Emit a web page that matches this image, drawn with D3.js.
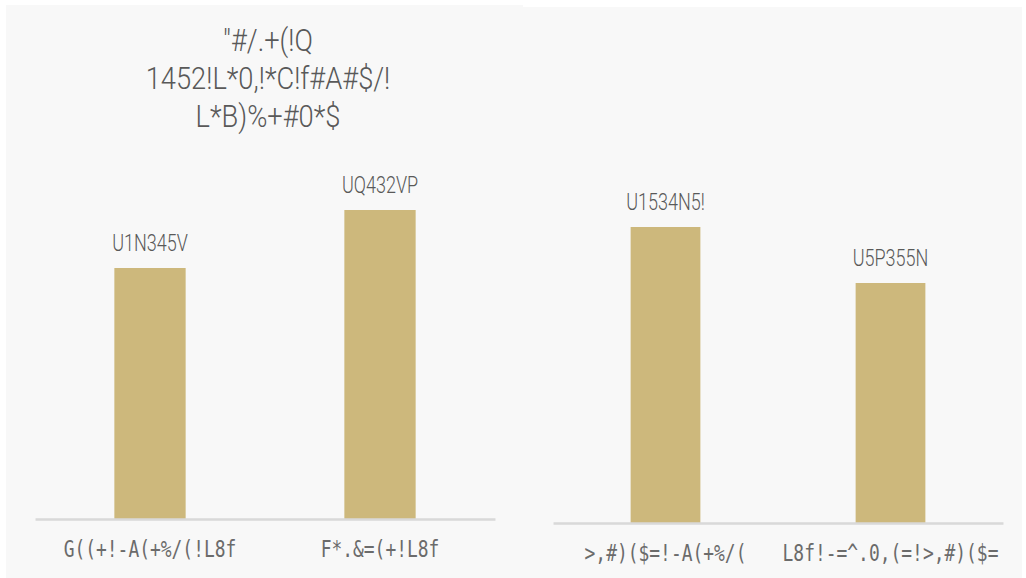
<!DOCTYPE html>
<html>
<head>
<meta charset="utf-8">
<script src="https://cdn.jsdelivr.net/npm/d3@7"></script>
<style>
  html, body { margin: 0; padding: 0; background: #ffffff; }
  svg { display: block; }
  .lbl { fill: #595959; }
  .cat { fill: #6b6b6b; }
</style>
</head>
<body>
<svg id="chart" width="1026" height="578"></svg>
<script>
// Title lines (left panel)
var titleLines = ['"#/.+(!Q', '1452!L*0,!*C!f#A#$/!', 'L*B)%+#0*$'];

// Left panel data
var leftCategories = ['G((+!-A(+%/(!L8f', 'F*.&=(+!L8f'];
var leftLabels = ['U1N345V', 'UQ432VP'];
var leftValues = [251, 309];

// Right panel data
var rightCategories = ['>,#)($=!-A(+%/(', 'L8f!-=^.0,(=!>,#)($='];
var rightLabels = ['U1534N5!', 'U5P355N'];
var rightValues = [296, 240];

var barColor = '#cdb87c';
var svg = d3.select('#chart');

// Draw one panel of bars
function drawPanel(panel, categories, labels, values) {
    var g = svg.append('g');

    g.append('rect')
        .attr('x', panel.left).attr('y', panel.top)
        .attr('width', panel.right - panel.left)
        .attr('height', 578 - panel.top)
        .attr('fill', '#f8f8f8');

    var x = d3.scaleBand()
        .domain(categories)
        .range([panel.axisStart, panel.axisEnd])
        .paddingInner(0.69)
        .paddingOuter(0.345);

    var y = d3.scaleLinear()
        .domain([0, 350])
        .range([panel.baseline, panel.baseline - 350]);

    // Bars
    g.selectAll('.bar')
        .data(values)
        .enter().append('rect')
        .attr('class', 'bar')
        .attr('x', function(d, i){ return x(categories[i]) })
        .attr('y', function(d){ return y(d) })
        .attr('width', x.bandwidth())
        .attr('height', function(d){ return y(0) - y(d) })
        .attr('fill', barColor);

    // Baseline axis
    var axis = g.append('g')
        .attr('transform', 'translate(0,' + panel.baseline + ')')
        .call(d3.axisBottom(x).tickSize(0).tickPadding(0));
    axis.select('.domain').attr('stroke', '#d9d9d9').attr('stroke-width', 2.5);
    axis.selectAll('.tick text').remove();

    // Category labels
    g.selectAll('.cat')
        .data(categories)
        .enter().append('text')
        .attr('class', 'lbl cat')
        .attr('transform', function(d){
            return 'translate(' + (x(d) + x.bandwidth() / 2) + ',' + (panel.baseline + 38) + ') scale(0.78,1)';
        })
        .attr('text-anchor', 'middle')
        .style('font-family', '"DejaVu Sans Mono", monospace')
        .style('font-size', '23px')
        .text(function(d){ return d });

    // Value labels
    g.selectAll('.val')
        .data(values)
        .enter().append('text')
        .attr('class', 'lbl val')
        .attr('transform', function(d, i){
            return 'translate(' + (x(categories[i]) + x.bandwidth() / 2) + ',' + (y(d) - 17) + ') scale(0.75,1)';
        })
        .attr('text-anchor', 'middle')
        .style('font-family', 'Roboto, sans-serif')
        .style('font-weight', 300)
        .style('font-size', '24px')
        .text(function(d, i){ return labels[i] });
}

drawPanel({left: 6, right: 523, top: 5, axisStart: 35, axisEnd: 495, baseline: 519},
          leftCategories, leftLabels, leftValues);
drawPanel({left: 523, right: 1022, top: 7, axisStart: 553, axisEnd: 1003, baseline: 523},
          rightCategories, rightLabels, rightValues);

// Title
svg.append('g').selectAll('text')
    .data(titleLines)
    .enter().append('text')
    .attr('class', 'lbl')
    .attr('transform', function(d, i){ return 'translate(268,' + (51 + i * 38) + ') scale(0.88,1)' })
    .attr('text-anchor', 'middle')
    .style('font-family', 'Roboto, sans-serif')
    .style('font-weight', 300)
    .style('font-size', '31px')
    .text(function(d){ return d });
</script>
</body>
</html>
